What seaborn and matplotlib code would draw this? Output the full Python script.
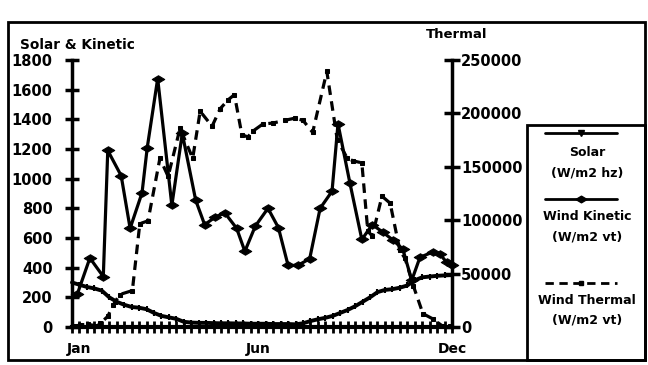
import matplotlib
matplotlib.use("Agg")
import matplotlib.pyplot as plt
from matplotlib.lines import Line2D
from matplotlib.patches import Rectangle
from matplotlib.path import Path
import seaborn as sns

# --- data (x = week of year, 0 = early Jan) ---
solar_week = list(range(52))
solar_val = [300, 285, 270, 260, 245, 200, 170, 150, 135, 130,
             120, 95, 75, 65, 55, 35, 30, 28, 28, 26,
             25, 25, 24, 24, 22, 22, 22, 20, 20, 20,
             18, 25, 40, 52, 62, 75, 95, 115, 140, 170,
             200, 235, 250, 255, 265, 280, 315, 335, 340, 345,
             348, 350]

kin_week = [0.7, 2.4, 4.2, 4.8, 6.6, 7.8, 9.4, 10.1, 11.5, 13.4,
            14.8, 16.6, 17.8, 19.2, 20.5, 22.1, 23.2, 24.6, 26.3, 27.7,
            29.0, 30.3, 31.9, 33.3, 34.9, 35.7, 37.3, 38.9, 40.3, 41.7,
            43.1, 44.4, 45.6, 46.7, 48.4, 49.4, 50.3, 51.0]
kin_val = [220, 465, 340, 1190, 1020, 665, 905, 1210, 1675, 820,
           1305, 855, 690, 740, 770, 665, 510, 680, 800, 670,
           415, 415, 460, 800, 915, 1370, 970, 590, 690, 640,
           585, 525, 315, 470, 505, 490, 435, 415]

therm_week = [0.4, 1.1, 2.1, 3.4, 3.8, 4.8, 5.5, 6.4, 8.1, 9.1,
              10.2, 11.8, 12.9, 14.5, 16.2, 17.2, 18.8, 19.9, 21.0, 21.8,
              22.8, 23.6, 24.3, 25.6, 27.0, 28.6, 29.9, 31.0, 32.3, 34.2,
              35.6, 36.9, 37.7, 38.9, 39.7, 40.3, 41.6, 42.7, 44.0, 44.7,
              45.8, 47.1, 48.4, 49.7, 50.7]
therm_val = [500, 2000, 2500, 1000, 3500, 9900, 20200, 30400, 34100, 96700,
             99400, 158000, 141000, 186000, 158000, 202000, 188000, 204500, 213000, 217500,
             180000, 178000, 183500, 190000, 191000, 193600, 195500, 193500, 182200, 239300,
             175400, 158500, 155600, 153700, 89800, 85100, 122500, 115900, 71700, 64200,
             38800, 12500, 7700, 1000, 500]

month_pos = [1, 25, 51]
month_lab = ["Jan", "Jun", "Dec"]
left_ticks = list(range(0, 1801, 200))
right_ticks = list(range(0, 250001, 50000))
legend_names = [("Solar", "(W/m2 hz)"), ("Wind Kinetic", "(W/m2 vt)"), ("Wind Thermal", "(W/m2 vt)")]

sns.set_style("ticks")
plt.rcParams["font.family"] = ["DejaVu Sans"]
plt.rcParams["font.weight"] = "bold"
for k in ["axes.edgecolor", "xtick.color", "ytick.color", "text.color", "axes.labelcolor"]:
    plt.rcParams[k] = "black"

# flat diamond like the old Mac chart markers
flat_diamond = Path([(-1, 0), (0, 0.6), (1, 0), (0, -0.6), (-1, 0)],
                    [Path.MOVETO, Path.LINETO, Path.LINETO, Path.LINETO, Path.CLOSEPOLY])

W, H = 648, 365
def fx(px): return px / W
def fy(py): return 1 - py / H

fig = plt.figure(figsize=(6.48, 3.65), dpi=100)
ax = fig.add_axes([fx(72), fy(327), fx(452) - fx(72), fy(60) - fy(327)])
ax2 = ax.twinx()

sns.lineplot(x=solar_week, y=solar_val, ax=ax, color="black", lw=2.8,
             marker="|", markersize=4, mec="black", mew=1.5, legend=False)
sns.lineplot(x=kin_week, y=kin_val, ax=ax, color="black", lw=2.3,
             marker=flat_diamond, markersize=9, mec="black", mfc="black", legend=False)
sns.lineplot(x=therm_week, y=therm_val, ax=ax2, color="black", lw=2.3,
             linestyle=(0, (3, 2)), marker="s", markersize=2.5, mec="black", mfc="black",
             legend=False)
for ln in ax.lines + ax2.lines:
    ln.set_clip_on(False)

ax.set_xlim(0, 51)
ax.set_ylim(0, 1800)
ax2.set_ylim(0, 250000)
for a in (ax, ax2):
    a.set_xlabel("")
    a.set_ylabel("")
    a.spines["top"].set_visible(False)
ax.spines["right"].set_visible(False)
ax2.spines["left"].set_visible(False)
ax2.spines["bottom"].set_visible(False)
ax.spines["left"].set_linewidth(2.5)
ax.spines["bottom"].set_linewidth(3)
ax2.spines["right"].set_linewidth(2.5)

ax.set_yticks(left_ticks)
ax.tick_params(axis="y", direction="inout", length=10, width=2.5, labelsize=10.5, pad=9)
ax2.set_yticks(right_ticks)
ax2.set_yticklabels([str(v) for v in right_ticks])
ax2.tick_params(axis="y", direction="inout", length=11, width=2.5, labelsize=10.5, pad=1)
ax.set_xticks(month_pos)
ax.set_xticklabels(month_lab)
ax.set_xticks(solar_week, minor=True)
ax.tick_params(axis="x", which="both", direction="inout", length=9, width=2, labelsize=10, pad=6)

fig.text(fx(20), fy(45), "Solar & Kinetic", fontsize=9.8, weight="bold", ha="left", va="center")
fig.text(fx(426), fy(35), "Thermal", fontsize=9.5, weight="bold", ha="left", va="center")

# outer frame and legend box
fig.add_artist(Rectangle((fx(8), fy(360)), fx(645) - fx(8), fy(22) - fy(360),
                         transform=fig.transFigure, fill=False, lw=2, ec="black"))
fig.add_artist(Rectangle((fx(527), fy(360)), fx(645) - fx(527), fy(125) - fy(360),
                         transform=fig.transFigure, fill=False, lw=2, ec="black"))

handle_y = [133, 199, 283]
label_y = [(153, 173), (217, 237), (300, 320)]
styles = [dict(ls="-", marker="v", ms=4), dict(ls="-", marker=flat_diamond, ms=8),
          dict(ls=(0, (3, 2)), marker="s", ms=3)]
for (n1, n2), hy, (y1, y2), st in zip(legend_names, handle_y, label_y, styles):
    fig.add_artist(Line2D([fx(545), fx(617)], [fy(hy)] * 2, transform=fig.transFigure,
                          color="black", lw=2, ls=st["ls"]))
    fig.add_artist(Line2D([fx(581)], [fy(hy)], transform=fig.transFigure, color="black",
                          marker=st["marker"], ms=st["ms"], mfc="black", ls="none"))
    fig.text(fx(587), fy(y1), n1, fontsize=9, weight="bold", ha="center", va="center")
    fig.text(fx(587), fy(y2), n2, fontsize=9, weight="bold", ha="center", va="center")

fig.savefig("out.png", dpi=100)
